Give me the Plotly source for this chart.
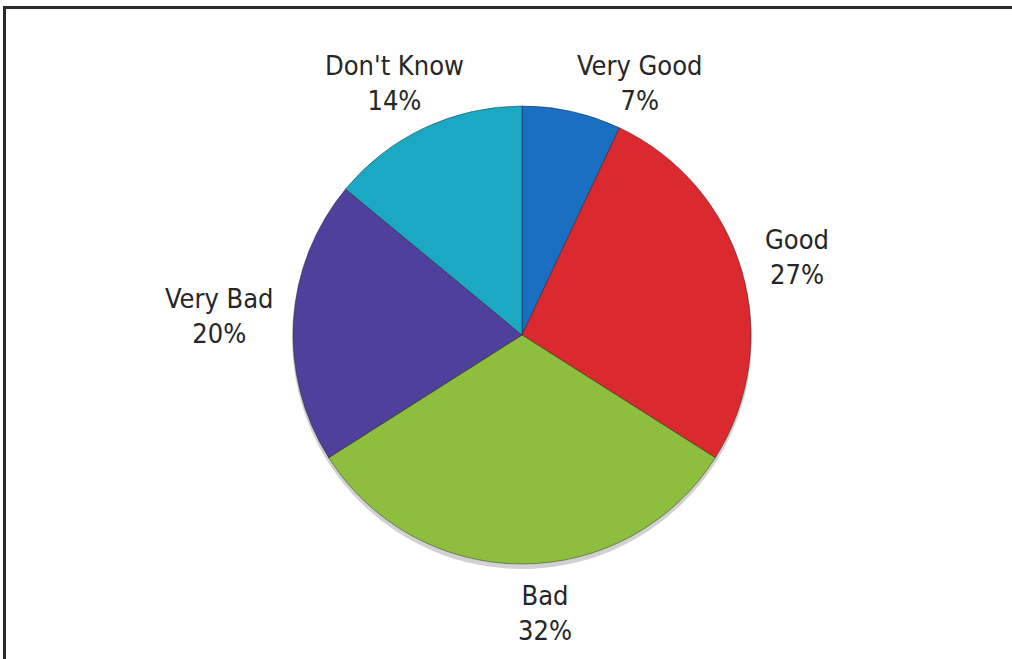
import math
import plotly.graph_objects as go

labels = ["Very Good", "Good", "Bad", "Very Bad", "Don't Know"]
values = [7, 27, 32, 20, 14]
colors = ["#1b6fc2", "#da2a2f", "#8dbe3e", "#4f409b", "#1aa8c3"]

# layout constants (pixels)
W, H = 1012, 659
cx, cy, R = 522, 335, 229
# label nudges (pixels) relative to a base point at 1.2*R along each slice's mid-angle
label_nudge = [(58, 16), (11, -1), (23, 3), (-28, -2), (-10, -3)]
FONT = "Liberation Sans Narrow, Arial Narrow, DejaVu Sans Condensed, sans-serif"

fig = go.Figure(go.Pie(
    labels=labels,
    values=values,
    sort=False,
    direction="clockwise",
    rotation=0,
    marker=dict(colors=colors, line=dict(color="rgba(20,20,20,0.4)", width=1)),
    textinfo="none",
    showlegend=False,
    domain=dict(x=[(cx - R) / W, (cx + R) / W], y=[(H - cy - R) / H, (H - cy + R) / H]),
    automargin=False,
    hoverinfo="label+percent",
))

total = sum(values)
annotations = []
cum = 0.0
for lab, v, (nx, ny) in zip(labels, values, label_nudge):
    mid = (cum + v / 2) / total * 2 * math.pi
    cum += v
    px = cx + 1.2 * R * math.sin(mid) + nx
    py = cy - 1.2 * R * math.cos(mid) + ny
    annotations.append(dict(
        x=px / W, y=1 - py / H, xref="paper", yref="paper",
        text=f"{lab}<br>{round(v / total * 100)}%",
        showarrow=False, xanchor="center", yanchor="middle",
        font=dict(family=FONT, size=27, color="#262626"),
    ))

fig.update_layout(
    width=W, height=H,
    margin=dict(l=0, r=0, t=0, b=0),
    paper_bgcolor="white",
    plot_bgcolor="white",
    annotations=annotations,
    shapes=[
        dict(type="rect", xref="paper", yref="paper",
             x0=4.5 / W, x1=1.05, y0=-0.05, y1=1 - 7.5 / H,
             line=dict(color="#2a2a2a", width=3)),
        dict(type="circle", xref="paper", yref="paper", layer="below",
             x0=(cx - R - 1) / W, x1=(cx + R + 1) / W,
             y0=(H - cy - R - 5) / H, y1=(H - cy + R - 1) / H,
             fillcolor="rgba(0,0,0,0.18)", line=dict(width=0)),
    ],
)

fig.write_html("out.html", config={"displayModeBar": False},
               post_script="document.body.style.margin='0';")
